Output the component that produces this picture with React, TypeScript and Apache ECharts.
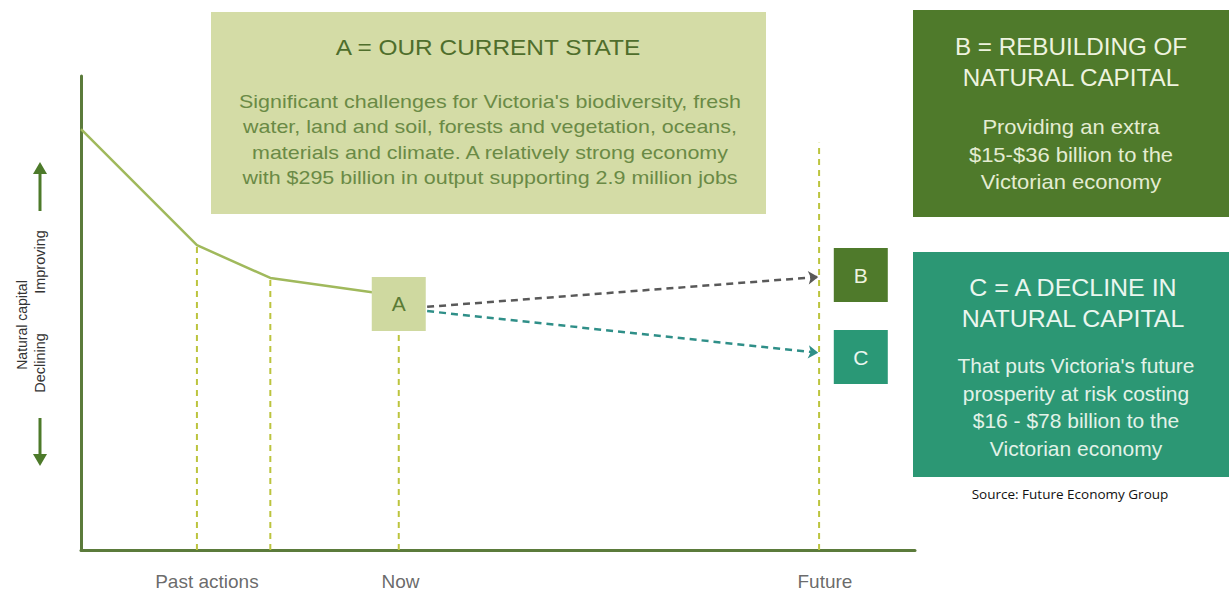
import React, { useEffect, useRef } from "react";
import * as echarts from "echarts";

// Natural capital path (x: time units, y: natural capital index)
const pathX = [0, 13.9, 22.7, 34.9];
const pathY = [88.8, 64.3, 57.4, 54.4];

// Dashed verticals (past actions, now, future)
const vertX = [13.9, 22.7, 38.1, 88.5];
const vertTop = [64.3, 57.4, 46.2, 85.9];

// Scenario points
const pointNames = ["A", "B", "C"];
const pointX = [38.1, 93.5, 93.5];
const pointY = [51.9, 58.0, 40.7];

// Projection arrows from A
const arrowStartX = [41.5, 41.5];
const arrowStartY = [51.3, 50.4];
const arrowEndX = [88.4, 88.4];
const arrowEndY = [57.6, 41.6];

// X axis labels
const xLabels = ["Past actions", "Now", "Future"];
const xLabelPos = [15.1, 38.3, 89.2];

const titleA = "A = OUR CURRENT STATE";
const bodyA = [
  "Significant challenges for Victoria's biodiversity, fresh",
  "water, land and soil, forests and vegetation, oceans,",
  "materials and climate. A relatively strong economy",
  "with $295 billion in output supporting 2.9 million jobs",
];
const titleB = ["B = REBUILDING OF", "NATURAL CAPITAL"];
const bodyB = ["Providing an extra", "$15-$36 billion to the", "Victorian economy"];
const titleC = ["C = A DECLINE IN", "NATURAL CAPITAL"];
const bodyC = [
  "That puts Victoria's future",
  "prosperity at risk costing",
  "$16 - $78 billion to the",
  "Victorian economy",
];

const FONT = "'Liberation Sans', Arial, sans-serif";

function txt(text: string, x: number, y: number, size: number, fill: string, sx = 1) {
  return {
    type: "text",
    x,
    y,
    z: 10,
    scaleX: sx,
    style: {
      text,
      fontSize: size,
      fontFamily: FONT,
      fill,
      align: "center",
      verticalAlign: "middle",
    },
  };
}

export default function App() {
  const ref = useRef<HTMLDivElement>(null);
  useEffect(() => {
    if (!ref.current) return;
    const chart = echarts.init(ref.current, null, { renderer: "svg" });

    const vertSeries = vertX.map((x, i) => ({
      type: "line",
      data: [
        [x, 0],
        [x, vertTop[i]],
      ],
      symbol: "none",
      silent: true,
      z: 1,
      lineStyle: { color: "#bcc43e", width: 2, type: [6, 5] },
    }));

    const graphics: any[] = [
      // Big box A
      { type: "rect", shape: { x: 211, y: 12, width: 555, height: 202 }, style: { fill: "#d4dca6" }, z: 5 },
      txt(titleA, 488, 47, 22, "#4f6e2c", 1.11),
      ...bodyA.map((t, i) => txt(t, 490, 101 + i * 25.5, 19, "#6a8a45", 1.13)),
      // Big box B
      { type: "rect", shape: { x: 913, y: 10, width: 316, height: 207 }, style: { fill: "#4f7a2b" }, z: 5 },
      ...titleB.map((t, i) => txt(t, 1071, 47 + i * 31, 24, "#eef3df", 1.01)),
      ...bodyB.map((t, i) => txt(t, 1071, 127 + i * 27.5, 20, "#e4ecd2", 1.1)),
      // Big box C
      { type: "rect", shape: { x: 913, y: 252, width: 316, height: 225 }, style: { fill: "#2c9774" }, z: 5 },
      ...titleC.map((t, i) => txt(t, 1073, 288 + i * 31, 24, "#eaf6ef", 1.04)),
      ...bodyC.map((t, i) => txt(t, 1076, 366 + i * 27.5, 20, "#e2f2e8", 1.05)),
      // Source
      {
        type: "text",
        x: 1070,
        y: 494,
        z: 10,
        style: {
          text: "Source: Future Economy Group",
          fontSize: 13.5,
          fontFamily: "'Open Sans', sans-serif",
          fill: "#111",
          align: "center",
          verticalAlign: "middle",
        },
      },
      // Y axis title
      { ...txt("Natural capital", 22, 325, 14, "#333"), rotation: Math.PI / 2 },
      { ...txt("Improving", 40, 262, 14.5, "#333"), rotation: Math.PI / 2 },
      { ...txt("Declining", 40, 363, 14.5, "#333"), rotation: Math.PI / 2 },
      // Up arrow
      { type: "line", shape: { x1: 40, y1: 211, x2: 40, y2: 170 }, style: { stroke: "#4d7a2a", lineWidth: 3 }, z: 10 },
      { type: "polygon", shape: { points: [[40, 162], [33, 174], [47, 174]] }, style: { fill: "#4d7a2a" }, z: 10 },
      // Down arrow
      { type: "line", shape: { x1: 40, y1: 418, x2: 40, y2: 458 }, style: { stroke: "#4d7a2a", lineWidth: 3 }, z: 10 },
      { type: "polygon", shape: { points: [[40, 466], [33, 454], [47, 454]] }, style: { fill: "#4d7a2a" }, z: 10 },
    ];

    const arrowColors = ["#595959", "#2f8f88"];

    chart.setOption({
      animation: false,
      grid: { left: 81, right: 314, top: 76, bottom: 42, containLabel: false },
      xAxis: {
        type: "value",
        min: 0,
        max: 100,
        axisLine: { show: true, onZero: false, lineStyle: { color: "#5b7b3b", width: 3 } },
        axisTick: { show: false },
        axisLabel: { show: false },
        splitLine: { show: false },
      },
      yAxis: {
        type: "value",
        min: 0,
        max: 100,
        axisLine: { show: true, onZero: false, lineStyle: { color: "#5b7b3b", width: 3 } },
        axisTick: { show: false },
        axisLabel: { show: false },
        splitLine: { show: false },
      },
      series: [
        ...vertSeries,
        {
          type: "line",
          data: pathX.map((x, i) => [x, pathY[i]]),
          symbol: "none",
          z: 3,
          lineStyle: { color: "#a0b95c", width: 2.5 },
          markLine: {
            silent: true,
            symbol: ["none", "arrow"],
            symbolSize: 10,
            label: { show: false },
            data: arrowStartX.map((x, i) => [
              { coord: [x, arrowStartY[i]], lineStyle: { color: arrowColors[i], width: 2.5, type: [7, 5] } },
              { coord: [arrowEndX[i], arrowEndY[i]] },
            ]),
          },
        },
        {
          type: "scatter",
          z: 6,
          symbol: "rect",
          symbolSize: 54,
          itemStyle: { opacity: 1 },
          data: pointNames.map((n, i) => ({
            name: n,
            value: [pointX[i], pointY[i]],
            itemStyle: { color: ["#cfd9a0", "#4f7a2b", "#2a9876"][i], opacity: 1 },
            label: { color: ["#5b7b35", "#eef3df", "#eaf6ef"][i] },
          })),
          label: {
            show: true,
            position: "inside",
            formatter: "{b}",
            fontSize: 21,
            fontFamily: FONT,
          },
        },
        {
          type: "scatter",
          symbolSize: 0,
          silent: true,
          data: xLabels.map((n, i) => ({ name: n, value: [xLabelPos[i], 0] })),
          label: {
            show: true,
            position: "bottom",
            distance: 22,
            formatter: "{b}",
            fontSize: 19,
            fontFamily: FONT,
            color: "#444",
          },
        },
      ],
      graphic: graphics,
    });
    return () => chart.dispose();
  }, []);
  return (
    <div
      ref={ref}
      style={{ position: "fixed", left: 0, top: 0, width: 1229, height: 592, background: "#fff" }}
    />
  );
}
